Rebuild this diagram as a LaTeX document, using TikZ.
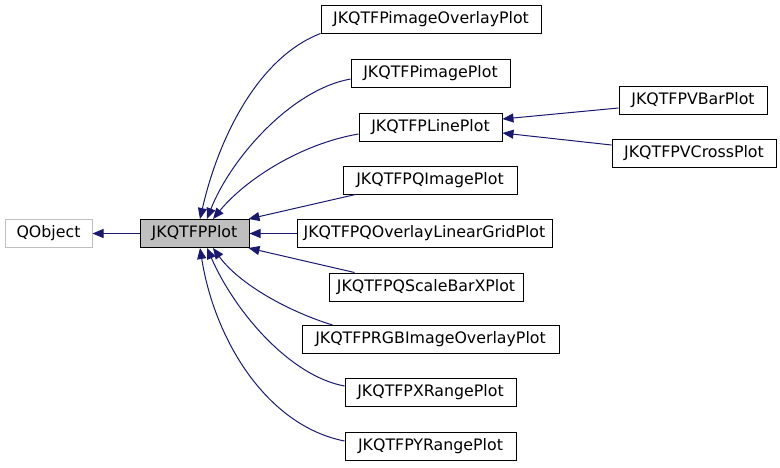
\documentclass[tikz,border=0pt]{standalone}
\usepackage{fontspec}
\setmainfont{DejaVu Sans}
\usetikzlibrary{arrows.meta}
\definecolor{edgeblue}{HTML}{191970}
\definecolor{plotfill}{HTML}{BFBFBF}
\tikzset{
  cls/.style={draw=black, line width=1pt, minimum height=28pt, inner sep=0pt, font=\fontsize{15.8}{18}\selectfont, text=black},
  ext/.style={cls, draw=plotfill},
  edge/.style={draw=edgeblue, line width=1pt, {Triangle[length=11pt,width=9pt]}-},
}
\begin{document}
\begin{tikzpicture}[x=1pt,y=-1pt]
\useasboundingbox (0,0) rectangle (780,467);
\node[ext, minimum width=87pt] (qobj) at (48.5,233.5) {QObject};
\node[cls, fill=plotfill, minimum width=109pt] (plot) at (194.5,233.5) {JKQTFPPlot};
\node[cls, minimum width=220pt] (iov) at (431,19) {JKQTFPimageOverlayPlot};
\node[cls, minimum width=159pt] (img) at (430.5,73) {JKQTFPimagePlot};
\node[cls, minimum width=143pt] (line) at (430.5,127) {JKQTFPLinePlot};
\node[cls, minimum width=174pt] (qimg) at (430,180) {JKQTFPQImagePlot};
\node[cls, minimum width=255pt] (grid) at (424.5,233.5) {JKQTFPQOverlayLinearGridPlot};
\node[cls, minimum width=194pt] (sbar) at (426,287) {JKQTFPQScaleBarXPlot};
\node[cls, minimum width=257pt] (rgb) at (430.5,339.5) {JKQTFPRGBImageOverlayPlot};
\node[cls, minimum width=171pt] (xr) at (430.5,392.5) {JKQTFPXRangePlot};
\node[cls, minimum width=171pt] (yr) at (430.5,446.5) {JKQTFPYRangePlot};
\node[cls, minimum width=148pt] (vbar) at (693,100.5) {JKQTFPVBarPlot};
\node[cls, minimum width=164pt] (vcross) at (694,153.5) {JKQTFPVCrossPlot};

\draw[edge] (qobj.east) -- (plot.west);
\draw[edge] ([xshift=5.5pt]plot.north) .. controls (218,140) and (257,58) .. (iov.south west);
\draw[edge] ([xshift=12.5pt]plot.north) .. controls (230,160) and (290,90) .. ([yshift=-6pt]img.west);
\draw[edge] ([xshift=18.5pt]plot.north) .. controls (245,180) and (300,144) .. ([yshift=-7pt]line.west);
\draw[edge] ([xshift=-1pt]plot.north east) -- ([xshift=13pt]qimg.south west);
\draw[edge] (plot.east) -- (grid.west);
\draw[edge] ([xshift=-1pt]plot.south east) -- ([xshift=26pt]sbar.north west);
\draw[edge] ([xshift=18.5pt]plot.south) .. controls (240,285) and (290,312) .. ([xshift=31pt]rgb.north west);
\draw[edge] ([xshift=12.5pt]plot.south) .. controls (235,312) and (290,376) .. ([yshift=6.5pt]xr.west);
\draw[edge] ([xshift=5.5pt]plot.south) .. controls (215,342) and (268,426) .. ([yshift=5.5pt]yr.west);
\draw[edge] ([yshift=8pt]line.east) -- ([yshift=-7.5pt]vbar.west);
\draw[edge] ([yshift=-6pt]line.east) -- ([yshift=8.5pt]vcross.west);
\end{tikzpicture}
\end{document}
